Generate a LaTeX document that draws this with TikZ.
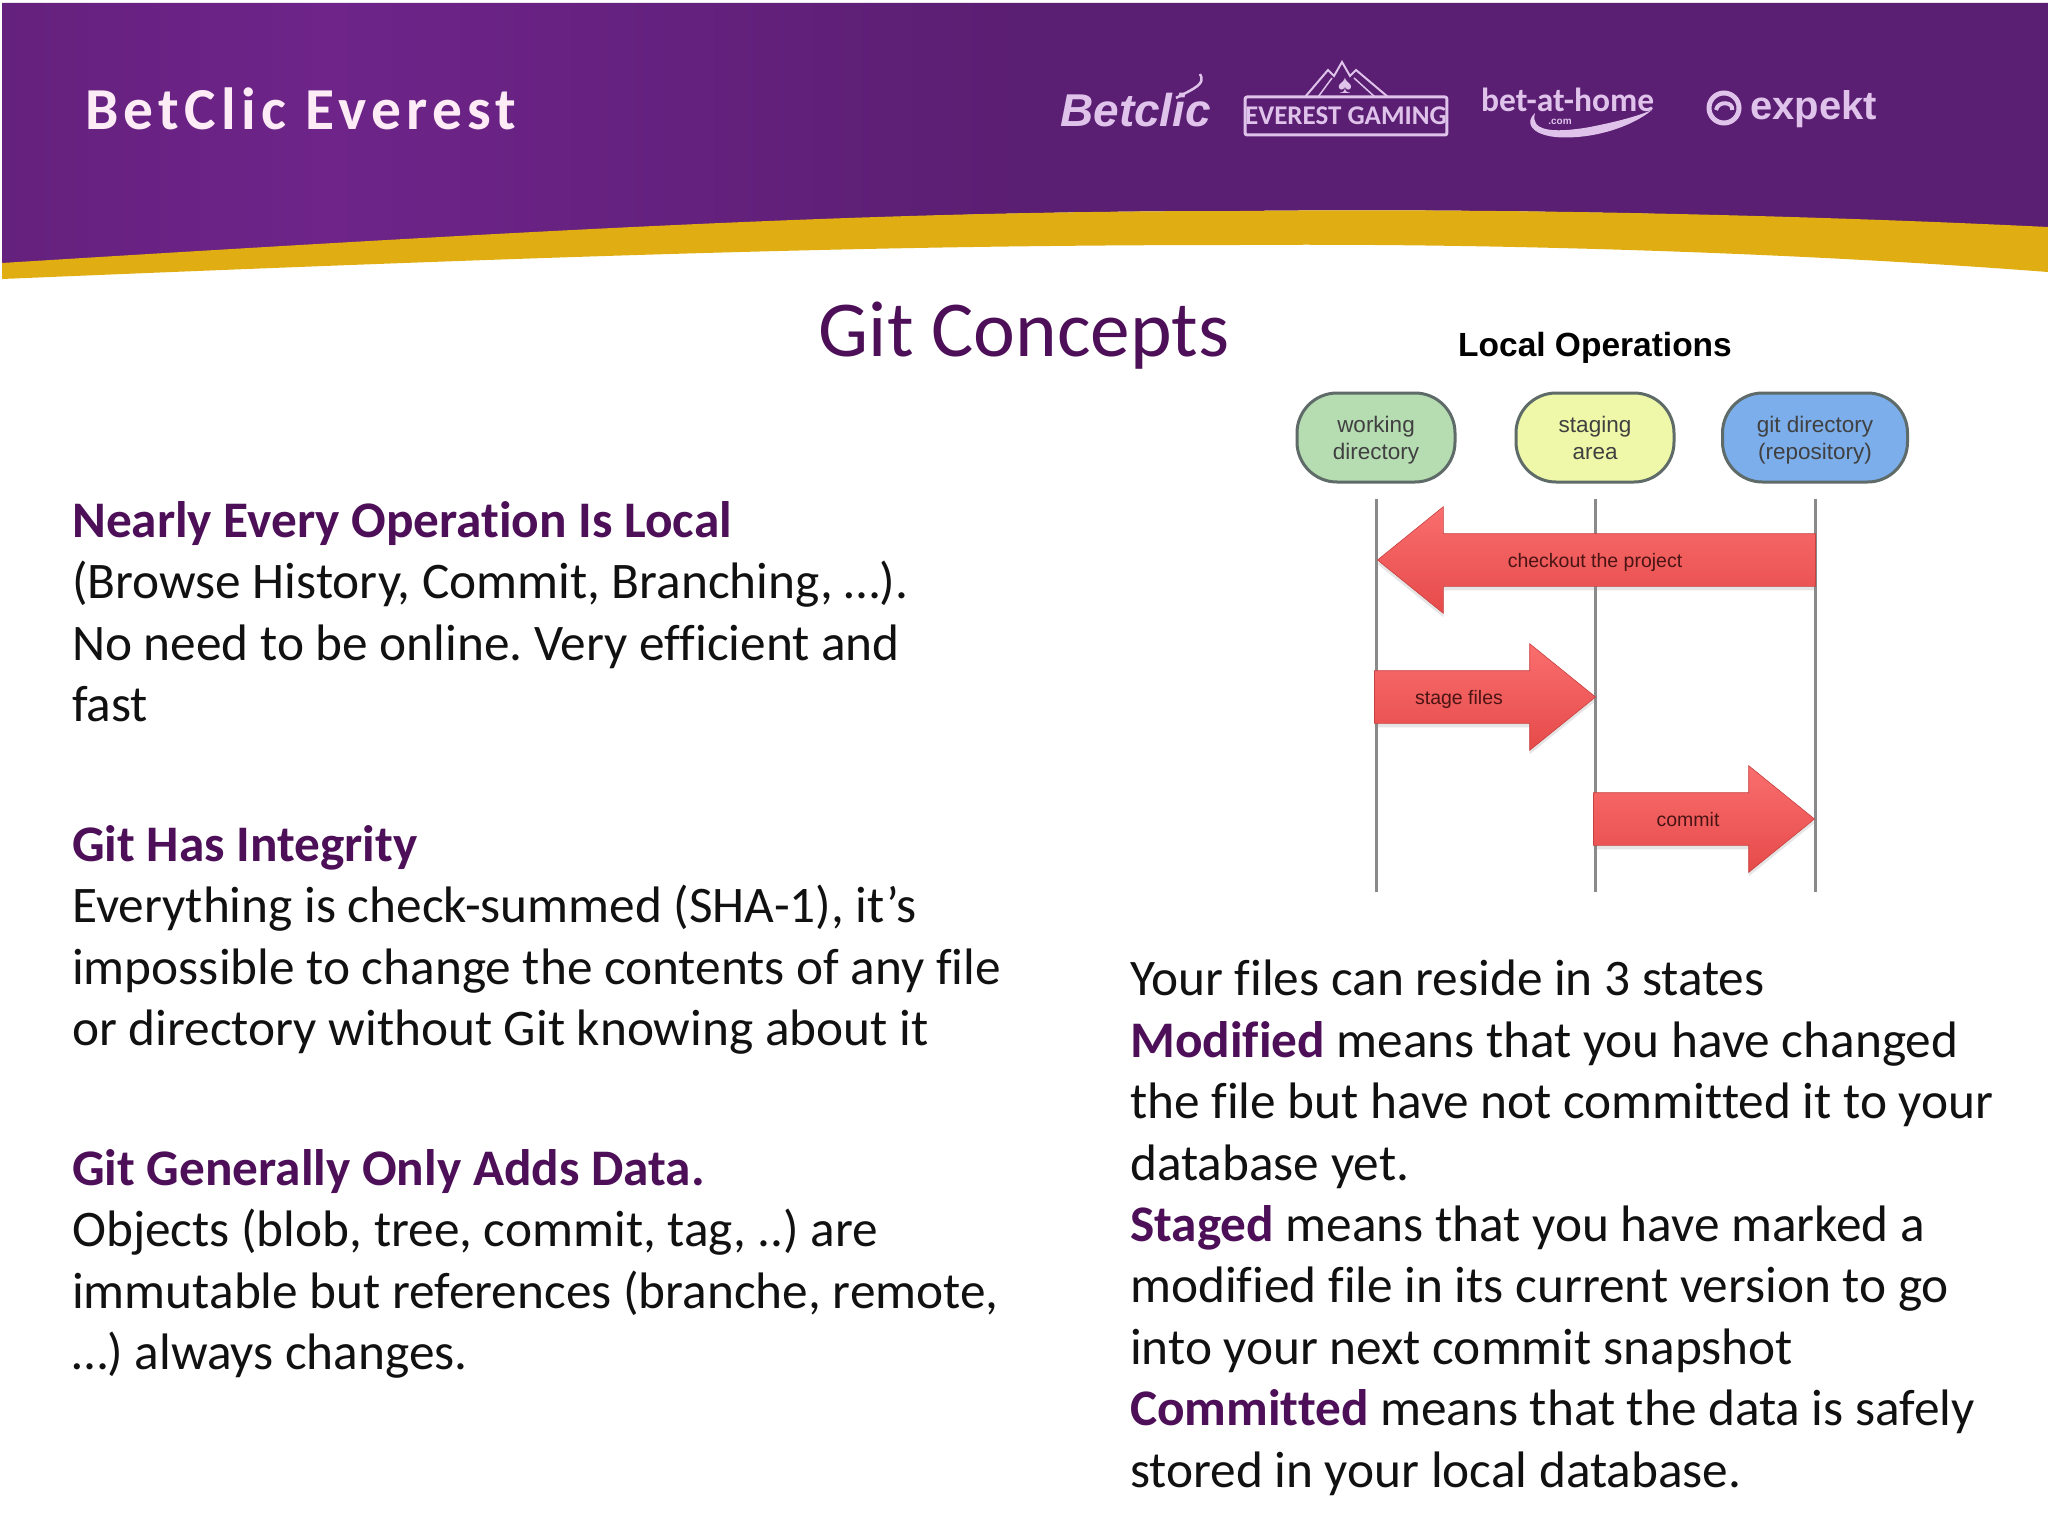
\documentclass[tikz,border=0pt]{standalone}
\usepackage{fontspec}
\setmainfont[Ligatures=CommonOff]{Carlito}
\newfontfamily\arrowfont{Liberation Sans}
\newfontfamily\headfont[LetterSpace=9]{Carlito}
\usetikzlibrary{shapes.arrows,shadows}
\frenchspacing

\definecolor{bandpurple}{HTML}{6E2489}
\definecolor{banddark}{HTML}{5A1E72}
\definecolor{bandgold}{HTML}{E0AE12}
\definecolor{logolilac}{HTML}{DFC3EB}
\definecolor{titlepurple}{HTML}{4D0F58}
\definecolor{bodyblack}{HTML}{111111}
\definecolor{laneline}{HTML}{8A8A8A}
\definecolor{stateedge}{HTML}{5E6B68}
\definecolor{workgreen}{HTML}{B6DDB2}
\definecolor{stageyellow}{HTML}{EEF8A8}
\definecolor{gitblue}{HTML}{7BAEEA}
\definecolor{arrowtop}{HTML}{FA6E6E}
\definecolor{arrowbottom}{HTML}{E64A4A}
\definecolor{arrowedge}{HTML}{C84040}
\definecolor{arrowink}{HTML}{4A1414}

\pgfdeclarehorizontalshading{bandfade}{100bp}{color(0bp)=(bandpurple!92!black); color(25bp)=(bandpurple!92!black);
	color(33bp)=(bandpurple!100!white); color(42bp)=(bandpurple!50!banddark); color(50bp)=(banddark); color(100bp)=(banddark)}

\newcommand{\hl}[1]{\textcolor{titlepurple}{\textbf{#1}}}
\newcommand{\topgap}{\rule{0pt}{25pt}}

\tikzset{
	bodytext/.style={anchor=north west, inner sep=0pt, align=left, text=bodyblack,
		font=\fontsize{51.3}{61.4}\selectfont},
	statebox/.style={draw=stateedge, line width=3pt, rounded corners=40pt, minimum height=89pt,
		align=center, text=black!75, font=\arrowfont\fontsize{22.5}{26.5}\selectfont},
	laneline/.style={draw=laneline, line width=3pt},
	redarrow/.style={single arrow, single arrow head indent=0pt, single arrow tip angle=78,
		single arrow head extend=27pt, minimum width=106pt, inner xsep=0pt, inner ysep=26pt,
		draw=arrowedge, line width=.6pt, top color=arrowtop, bottom color=arrowbottom,
		drop shadow={opacity=.2, shadow xshift=0pt, shadow yshift=-4pt}},
	arrowlabel/.style={text=arrowink, font=\arrowfont\fontsize{19.5}{22}\selectfont},
	logotext/.style={text=logolilac, inner sep=0pt},
}

\begin{document}
\begin{tikzpicture}[x=1pt, y=-1pt]
	\useasboundingbox (0,0) rectangle (2048,1536);
	\fill[white] (0,0) rectangle (2048,1536);

	% banner
	\shade[shading=bandfade]
		(2,3) -- (2048,3) -- (2048,230) .. controls (1800,215) and (1500,208) .. (1240,211)
		.. controls (900,211) and (600,228) .. (2,265) -- cycle;
	\fill[bandgold] (2,263) .. controls (600,226) and (900,211) .. (1240,211)
		.. controls (1500,208) and (1800,215) .. (2048,227) -- (2048,272)
		.. controls (1800,253) and (1500,243) .. (1240,245)
		.. controls (900,245) and (600,254) .. (2,279) -- cycle;

	\node (company) [anchor=west, inner sep=0pt, text=white!92!magenta,
		font=\headfont\bfseries\fontsize{59.5}{60}\selectfont] at (85,109) {BetClic Everest};

	% logos
	\node (betclic) [logotext, anchor=west, font=\arrowfont\bfseries\itshape\fontsize{46}{46}\selectfont] at (1060,110) {Betclic};
	\draw[logolilac, line width=2.5pt] (1176,98) .. controls (1195,88) and (1206,84) .. (1200,74);
	\node (everest) [logotext, draw=logolilac, line width=3pt, rounded corners=2pt, minimum width=198pt, minimum height=38pt,
		font=\bfseries\fontsize{27}{27}\selectfont] at (1346,116) {EVEREST GAMING};
	\draw[logolilac, line width=2pt] (1305,97) -- (1328,70) -- (1334,76) -- (1342,62) -- (1350,76) -- (1356,70) -- (1388,97);
	\draw[logolilac, line width=1.5pt] (1318,97) -- (1332,78);
	\draw[logolilac, line width=1.5pt] (1375,97) -- (1354,78);
	\node (spade) [logotext, font=\arrowfont\fontsize{26}{26}\selectfont] at (1345,86) {\char"2660};
	\node (bethome) [logotext, anchor=west, font=\bfseries\fontsize{33.5}{33.5}\selectfont] at (1481,100) {bet-at-home};
	\node (dotcom) [logotext, font=\arrowfont\bfseries\fontsize{10}{10}\selectfont] at (1560,122) {.com};
	\fill[logolilac] (1535,113) .. controls (1530,130) and (1550,134) .. (1590,127)
		.. controls (1625,120) and (1640,115) .. (1652,110)
		.. controls (1630,128) and (1590,140) .. (1555,137) .. controls (1530,134) and (1525,122) .. (1535,113) -- cycle;
	\node (expekt) [logotext, anchor=west, font=\arrowfont\bfseries\fontsize{40}{40}\selectfont] at (1750,109) {expekt};
	\draw[logolilac, line width=5pt] (1724,108) circle [radius=15pt];
	\draw[logolilac, line width=4pt] (1716,110) .. controls (1718,100) and (1734,102) .. (1732,110);

	% title
	\node (title) [inner sep=0pt, text=titlepurple, font=\fontsize{79.3}{79.3}\selectfont] at (1024,336) {Git Concepts};

	% left column
	\node (local) [bodytext] at (72,501) {\hl{Nearly Every Operation Is Local}\\
		(Browse History, Commit, Branching, …).\\
		No need to be online. Very efficient and\\
		fast};
	\node (integrity) [bodytext] at (72,825) {\hl{Git Has Integrity}\\
		Everything is check-summed (SHA-1), it’s\\
		impossible to change the contents of any file\\
		or directory without Git knowing about it};
	\node (adds) [bodytext] at (72,1149) {\hl{Git Generally Only Adds Data.}\\
		Objects (blob, tree, commit, tag, ..) are\\
		immutable but references (branche, remote,\\
		…) always changes.};

	% right column
	\node (states) [bodytext] at (1130,960) {Your files can reside in 3 states\\
		\hl{Modified} means that you have changed\\
		the file but have not committed it to your\\
		database yet.\\
		\hl{Staged} means that you have marked a\\
		modified file in its current version to go\\
		into your next commit snapshot\\
		\hl{Committed} means that the data is safely\\
		stored in your local database.};

	% local operations
	\node (localops) [text=black, font=\arrowfont\bfseries\fontsize{33.5}{33.5}\selectfont] at (1595,348) {Local Operations};
	\node (work) [statebox, fill=workgreen, minimum width=158pt] at (1376,437.5) {\topgap working\\directory\strut};
	\node (stage) [statebox, fill=stageyellow, minimum width=158pt] at (1595,437.5) {\topgap staging\\area\strut};
	\node (repo) [statebox, fill=gitblue, minimum width=185pt] at (1815,437.5) {\topgap git directory\\(repository)\strut};

	\coordinate (worktop) at (1376,499);
	\coordinate (workend) at (1376,892);
	\coordinate (stagetop) at (1595,499);
	\coordinate (stageend) at (1595,892);
	\coordinate (repotop) at (1815,499);
	\coordinate (repoend) at (1815,892);
	\draw[laneline] (worktop) -- (workend);
	\draw[laneline] (stagetop) -- (stageend);
	\draw[laneline] (repotop) -- (repoend);

	\node (checkout) [redarrow, shape border rotate=180, minimum height=438pt, anchor=tip] at (1377,560) {};
	\node (stagefiles) [redarrow, minimum height=221pt, anchor=tip] at (1596,697) {};
	\node (commit) [redarrow, minimum height=221pt, anchor=tip] at (1815,819) {};
	\node (checkoutlabel) [arrowlabel] at (1595,562) {checkout the project};
	\node (stagelabel) [arrowlabel] at (1459,699) {stage files};
	\node (commitlabel) [arrowlabel] at (1688,820) {commit};
\end{tikzpicture}
\end{document}
